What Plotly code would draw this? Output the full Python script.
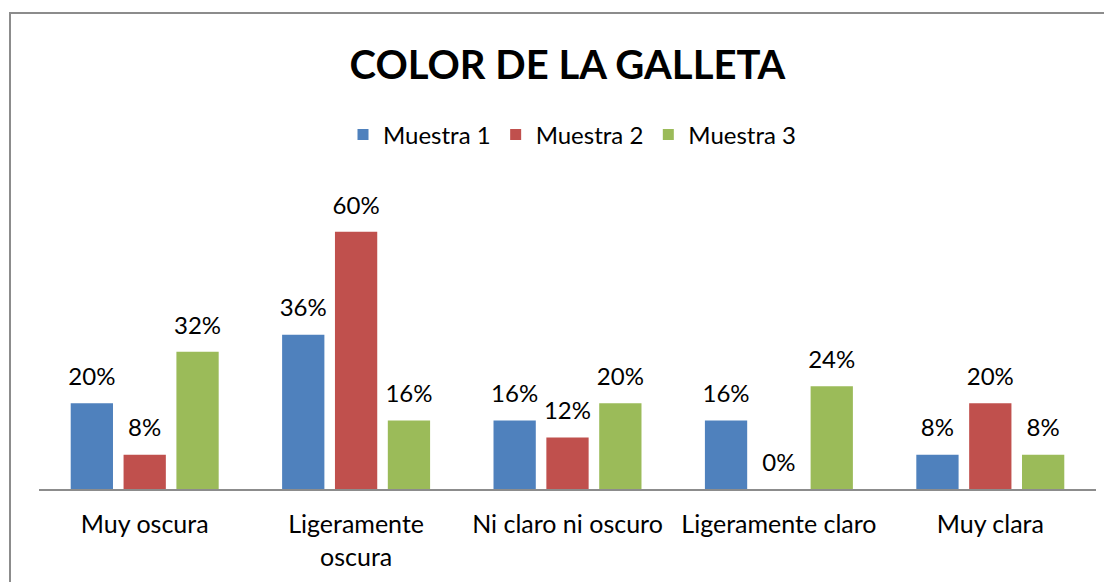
import plotly.graph_objects as go

categories = ["Muy oscura", "Ligeramente<br>oscura", "Ni claro ni oscuro", "Ligeramente claro", "Muy clara"]
series_names = ["Muestra 1", "Muestra 2", "Muestra 3"]
muestra1 = [20, 36, 16, 16, 8]
muestra2 = [8, 60, 12, 0, 20]
muestra3 = [32, 16, 20, 24, 8]
colors = ["#4F81BD", "#C0504D", "#9BBB59"]

OFF = 8  # page body margin
W, H = 1112 - OFF, 582 - OFF
L, R, T, B = 39 - OFF, 1096 - OFF, 189 - OFF, 489 - OFF
FONT = "Lato"

fig = go.Figure()
for name, vals, col in zip(series_names, [muestra1, muestra2, muestra3], colors):
    fig.add_trace(go.Bar(
        x=categories, y=vals, name=name, marker_color=col, marker_line_width=0,
        offsetgroup=name, alignmentgroup="g", showlegend=False,
    ))
for name, vals in zip(series_names, [muestra1, muestra2, muestra3]):
    fig.add_trace(go.Scatter(
        x=categories, y=vals, mode="markers+text", text=[f"{v}%" for v in vals],
        textposition="top center", marker=dict(size=18, opacity=0),
        textfont=dict(family=FONT, size=24, color="black"),
        offsetgroup=name, alignmentgroup="g", showlegend=False, hoverinfo="skip", cliponaxis=False,
    ))
# legend entries with square swatches (on a hidden secondary axis pair)
for name, col in zip(series_names, colors):
    fig.add_trace(go.Scatter(
        x=[None], y=[None], mode="markers", name=name,
        marker=dict(symbol="square", size=11, color=col),
        xaxis="x2", yaxis="y2", hoverinfo="skip",
    ))

def px_x(p):
    return (p - OFF - L) / (R - L)

def px_y(p):
    return (B - (p - OFF)) / (B - T)

fig.update_layout(
    width=W, height=H,
    margin=dict(l=L, r=W - R, t=T, b=H - B, pad=0),
    paper_bgcolor="white", plot_bgcolor="white",
    barmode="group", scattermode="group", bargap=0.25, bargroupgap=0.2,
    title=dict(text="<b>COLOR DE LA GALLETA</b>", x=(567.5 - OFF) / W,
               xanchor="center", y=1 - (65 - OFF) / H, yanchor="middle",
               font=dict(family=FONT, size=40, color="black")),
    legend=dict(orientation="h", x=px_x(572), xanchor="center", y=px_y(135), yanchor="middle",
                font=dict(family=FONT, size=24, color="black"), itemwidth=30,
                bgcolor="rgba(0,0,0,0)"),
    xaxis=dict(showline=True, linecolor="#8C8C8C", linewidth=2, ticks="", showgrid=False,
               tickfont=dict(family=FONT, size=25, color="black"), ticklabelstandoff=12,
               fixedrange=True),
    yaxis=dict(range=[0, 70], visible=False, showgrid=False, zeroline=False),
    xaxis2=dict(visible=False, overlaying="x", range=[0, 1]),
    yaxis2=dict(visible=False, overlaying="y", range=[0, 1]),
    shapes=[dict(type="rect", xref="paper", yref="paper",
                 x0=px_x(10), x1=px_x(1250), y0=px_y(13), y1=px_y(700),
                 line=dict(color="#8C8C8C", width=2), fillcolor="rgba(0,0,0,0)", layer="below")],
)

fig.write_html("out.html")
